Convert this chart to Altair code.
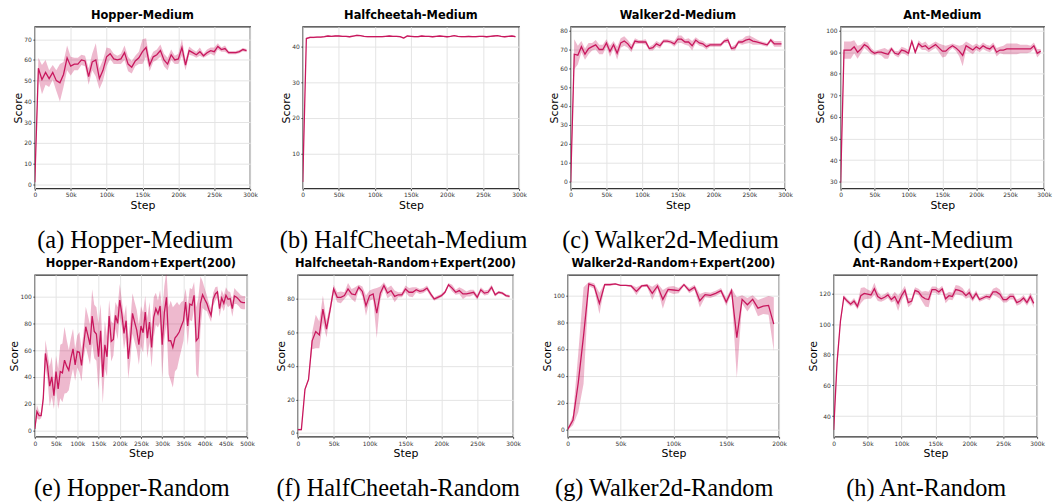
import altair as alt
import pandas as pd

# ---------------- data ----------------
steps_300 = list(range(0, 300, 5))   # in thousands
steps_500 = list(range(0, 500, 5))
steps_200 = list(range(0, 200, 5))

hopper_med_mean = [1, 56, 50.5, 54, 51, 54, 50, 49, 53, 61,
                   57, 58, 58, 60, 59.5, 52, 59, 60, 51, 55,
                   61.5, 63, 60.5, 60, 60.5, 63.5, 58, 56.5, 59.5, 61,
                   64, 66, 57.5, 61.5, 62.5, 64.5, 60, 58, 62.5, 60,
                   60.5, 66, 57.5, 64.5, 63.5, 62.5, 64, 62, 63.5, 64.5,
                   64, 66.5, 65, 65.5, 63.5, 63.5, 63.5, 64, 65, 64.5]
hopper_med_std = [1, 5, 7, 6, 4, 3.5, 5, 9, 6, 6,
                  4.5, 3, 3, 2.5, 2.5, 4, 4, 8, 5, 5,
                  4.5, 2.5, 2.5, 2, 2.5, 3.5, 3.5, 3, 2.5, 3,
                  6, 4.5, 3, 2.5, 2.5, 3, 3, 3, 2.5, 2,
                  2.5, 4, 2.5, 2, 1.5, 1.5, 2, 1, 1.5, 1.5,
                  2, 1.5, 1, 1.5, 0.8, 0.8, 0.8, 0.8, 0.8, 0.8]

cheetah_med_mean = [2, 42.3, 42.6, 42.6, 42.7, 42.7, 42.8, 43.0, 42.9, 43.0,
                    43.0, 42.9, 42.9, 42.8, 43.0, 43.2, 43.1, 42.9, 42.8, 42.8,
                    42.8, 42.8, 42.8, 42.9, 43.0, 42.9, 42.9, 42.8, 42.4, 43.0,
                    42.9, 42.8, 42.8, 43.0, 42.9, 42.9, 42.8, 42.9, 43.0, 42.9,
                    42.8, 42.9, 43.1, 42.9, 42.8, 42.8, 42.9, 42.8, 42.8, 42.9,
                    42.9, 42.8, 42.9, 43.0, 43.1, 42.9, 42.8, 42.9, 43.0, 42.8]
cheetah_med_std = [1, 0.3, 0.25, 0.2, 0.2, 0.2, 0.2, 0.2, 0.2, 0.2,
                   0.2, 0.2, 0.2, 0.2, 0.2, 0.2, 0.2, 0.2, 0.2, 0.2,
                   0.2, 0.2, 0.2, 0.2, 0.2, 0.2, 0.2, 0.2, 0.25, 0.2,
                   0.2, 0.2, 0.2, 0.2, 0.2, 0.2, 0.2, 0.2, 0.2, 0.2,
                   0.2, 0.2, 0.2, 0.2, 0.2, 0.2, 0.2, 0.2, 0.2, 0.2,
                   0.2, 0.2, 0.2, 0.2, 0.2, 0.2, 0.2, 0.2, 0.2, 0.2]

walker_med_mean = [-0.5, 67.5, 67, 71.5, 67.5, 70.5, 71.5, 72.5, 70, 70,
                   73.5, 69, 72.5, 68, 73.5, 74.5, 73, 70.5, 74.5, 74,
                   74, 74, 70.5, 71, 73, 72, 74.5, 74.5, 74, 73,
                   75.5, 75.5, 74, 74, 72, 75, 73.5, 73, 71.5, 72.5,
                   72.5, 72.5, 72.5, 74.5, 75, 70.5, 71, 74, 74, 75,
                   75.5, 74.5, 74, 73.5, 73, 72.5, 75, 73, 73, 73]
walker_med_std = [1, 8, 5, 3, 3, 3, 2, 2.5, 2.5, 2.5,
                  2, 3, 2, 3.5, 2.5, 2.5, 2, 2, 1.5, 1,
                  1, 1.5, 1, 1.5, 1.5, 1.5, 1, 1, 1, 1.5,
                  2, 2, 1.5, 2, 2.5, 1.5, 1.5, 1.5, 1.5, 1,
                  1, 1, 1, 1, 1.5, 1, 1.5, 1, 1.5, 2,
                  2, 2, 1.5, 1, 1, 1, 1, 1.5, 1.5, 1.5]

ant_med_mean = [29.5, 91, 91, 91, 92.5, 90, 91.5, 93.5, 92.5, 90.5,
                89.5, 90, 90, 89.5, 89, 91.5, 89.5, 89, 91, 90.5,
                89.5, 95, 90, 94, 92.5, 93, 91.5, 92.5, 93.5, 92,
                90.5, 90.5, 92, 93, 92, 90.5, 88.5, 93, 92, 91,
                92.5, 91.5, 93, 92, 91.5, 93, 90, 91, 91, 91.5,
                91.5, 91.5, 91.5, 91.5, 91.5, 91.5, 91.5, 93, 89.5, 90.5]
ant_med_std = [1, 4, 4, 4, 3, 3, 2, 1.5, 2, 1.5,
               1, 1, 1.5, 2.5, 2, 1, 1, 1.5, 1.5, 1.5,
               1.5, 1, 1, 1.5, 1.5, 2, 1.5, 1.5, 1.5, 2,
               3, 2.5, 1.5, 1, 1.5, 2.5, 5, 2, 2, 2,
               1.5, 1.5, 1.5, 1.5, 1.5, 1.5, 2, 1.5, 2, 2.5,
               2.5, 2.5, 2.5, 2, 2, 2, 1.5, 1.5, 2, 1]

hopper_rnd_mean = [1, 14, 11, 11, 24, 57.5, 48, 33, 40, 26,
                   44, 31, 44, 43, 52.5, 48, 45, 54, 61, 49,
                   59, 58.5, 48.5, 64, 77.5, 71, 64, 85.5, 74, 72,
                   55, 74.5, 40, 64, 55, 85.5, 66.5, 68, 86, 80,
                   97.5, 87, 72.5, 82, 53.5, 67, 87.5, 81, 75, 64,
                   78, 73, 88.5, 69, 81, 62, 84.5, 91, 87, 93,
                   64, 88, 99.5, 67, 67, 62, 69, 71, 73.5, 78,
                   82, 96, 78, 94.5, 93.5, 101, 67, 69, 95, 101.5,
                   98, 95, 90, 86, 98, 102, 103.5, 91, 99, 95,
                   101, 98, 98.5, 91, 100.5, 99.5, 98, 96, 95.5, 95.5]
hopper_rnd_std = [1, 5, 3, 2, 5, 10, 10, 15, 15, 10,
                  12, 15, 20, 22, 25, 20, 15, 15, 15, 12,
                  12, 15, 12, 10, 15, 15, 15, 20, 20, 20,
                  25, 20, 20, 18, 15, 12, 15, 12, 10, 12,
                  12, 10, 12, 12, 15, 15, 15, 15, 15, 15,
                  15, 15, 12, 15, 15, 15, 15, 12, 10, 12,
                  25, 20, 20, 25, 30, 30, 25, 25, 20, 18,
                  15, 10, 15, 12, 12, 10, 25, 30, 20, 10,
                  8, 6, 5, 5, 5, 5, 4, 6, 6, 6,
                  6, 6, 5, 6, 6, 5, 5, 5, 5, 5]

cheetah_rnd_mean = [2, 2, 26, 32, 55, 60.5, 58.5, 74, 62, 73.5,
                    86, 81, 81, 82, 86, 83, 82.5, 87, 84.5, 76,
                    82, 83, 71.5, 83.5, 88, 83.5, 85, 81.5, 82.5, 82.5,
                    86, 84, 84, 85.5, 84.5, 85, 86.5, 83, 80, 81,
                    82, 84, 88.5, 86.5, 84, 85, 83, 83, 83.5, 84,
                    81, 85.5, 83.5, 84, 87, 82.5, 84, 83.5, 82, 81.5]
cheetah_rnd_std = [0.5, 0.5, 1, 1, 5, 10, 8, 8, 5, 3,
                   2.5, 3, 3.5, 2, 3.5, 3, 4.5, 1.5, 3, 6,
                   3, 3, 15, 4, 2, 3, 3, 3.5, 1.5, 1.5,
                   2, 2.5, 3, 1.5, 1.5, 1.5, 1.5, 1.5, 1, 1,
                   1, 1, 1, 2, 1.5, 2, 3, 1.5, 2, 1.5,
                   1.5, 1.5, 1.5, 1.5, 1.5, 1, 0.8, 0.8, 0.8, 0.8]

walker_rnd_mean = [0, 7, 35, 70, 108.5, 107, 94, 108, 108, 108.5,
                   107.5, 107.5, 107, 103, 107, 107.5, 101.5, 107, 97, 104.5,
                   104, 103.5, 108, 103.5, 106, 96, 100.5, 100, 101.5, 103.5,
                   95, 103.5, 68.5, 97, 93, 97, 90.5, 92, 92.5, 78.5]
walker_rnd_std = [0.5, 4, 22, 36, 1.5, 2, 8, 1, 1, 0.5,
                  0.5, 0.5, 1, 3, 1, 1, 5, 2, 7, 2,
                  3, 2, 1, 2, 2, 5, 2, 2, 2, 2,
                  3, 2, 30, 3, 5, 3, 6, 6, 7, 20]

ant_rnd_mean = [31, 75, 102, 117.5, 115, 113, 115, 111.5, 118.5, 120,
                119.5, 119, 123, 118, 116.5, 117.5, 119, 116, 118, 113.5,
                118.5, 122, 114, 115, 122, 121, 118, 116.5, 116, 122.5,
                122.5, 121, 123, 116.5, 118.5, 118, 122.5, 122, 121, 118.5,
                120.5, 116.5, 120, 116, 117, 118, 117.5, 121, 121, 119.5,
                116, 116, 118, 118, 114, 115, 117, 114, 118, 113.5]
ant_rnd_std = [1, 3, 2, 1.5, 1.5, 1.5, 2, 2, 5, 4,
               3, 2.5, 4, 3, 2, 2, 2, 2, 3, 5,
               3, 3, 3, 2, 2, 2, 3, 5, 5, 2,
               2, 2, 2, 3, 2.5, 2.5, 3, 3, 2.5, 2,
               3, 2, 2, 1.5, 1.5, 1.5, 2, 2, 3, 3,
               2, 2, 2, 2, 2, 2, 2, 2, 2.5, 3]

titles = ["Hopper-Medium", "Halfcheetah-Medium", "Walker2d-Medium", "Ant-Medium",
          "Hopper-Random+Expert(200)", "Halfcheetah-Random+Expert(200)",
          "Walker2d-Random+Expert(200)", "Ant-Random+Expert(200)"]
captions = ["(a) Hopper-Medium", "(b) HalfCheetah-Medium", "(c) Walker2d-Medium", "(d) Ant-Medium",
            "(e) Hopper-Random", "(f) HalfCheetah-Random", "(g) Walker2d-Random", "(h) Ant-Random"]

xticks_300 = [0, 50, 100, 150, 200, 250, 300]
xticks_500 = [0, 50, 100, 150, 200, 250, 300, 350, 400, 450, 500]
xticks_200 = [0, 50, 100, 150, 200]

# ---------------- styling ----------------
COLOR = "#C8175D"
H = 163

specs = [
    (steps_300, hopper_med_mean, hopper_med_std, 300, xticks_300, [-2, 76], list(range(0, 80, 10)), 217),
    (steps_300, cheetah_med_mean, cheetah_med_std, 300, xticks_300, [0.2, 45.6], [10, 20, 30, 40], 218),
    (steps_300, walker_med_mean, walker_med_std, 300, xticks_300, [-3.9, 82.1], list(range(0, 90, 10)), 216),
    (steps_300, ant_med_mean, ant_med_std, 300, xticks_300, [26.8, 101.8], list(range(30, 110, 10)), 205),
    (steps_500, hopper_rnd_mean, hopper_rnd_std, 500, xticks_500, [-4.7, 116.3], [0, 20, 40, 60, 80, 100], 214),
    (steps_300, cheetah_rnd_mean, cheetah_rnd_std, 300, xticks_300, [-2.2, 94.4], [0, 20, 40, 60, 80], 217),
    (steps_200, walker_rnd_mean, walker_rnd_std, 200, xticks_200, [-5.4, 115.3], [0, 20, 40, 60, 80, 100], 213),
    (steps_300, ant_rnd_mean, ant_rnd_std, 300, xticks_300, [26.6, 132.1], [40, 60, 80, 100, 120], 205),
]


def make_panel(i):
    steps, mean, std, xmax, xticks, ydom, yticks, w = specs[i]
    df = pd.DataFrame({"step": steps, "mean": mean, "std": std})
    df["lo"] = df["mean"] - df["std"]
    df["hi"] = df["mean"] + df["std"]
    xscale = alt.Scale(domain=[0, xmax], nice=False, zero=False)
    yscale = alt.Scale(domain=ydom, nice=False, zero=False)
    xaxis = alt.Axis(values=xticks, title="Step", titlePadding=2,
                     labelExpr="datum.value == 0 ? '0' : datum.value + 'k'")
    yaxis = alt.Axis(values=yticks, title="Score", titlePadding=0)
    band = alt.Chart(df).mark_area(color=COLOR, opacity=0.3, clip=True).encode(
        x=alt.X("step:Q", scale=xscale, axis=xaxis),
        y=alt.Y("lo:Q", scale=yscale, axis=yaxis),
        y2="hi:Q",
    )
    line = alt.Chart(df).mark_line(color=COLOR, strokeWidth=1.3, clip=True).encode(
        x=alt.X("step:Q", scale=xscale, axis=xaxis),
        y=alt.Y("mean:Q", scale=yscale, axis=yaxis),
    )
    layered = alt.layer(band, line).properties(
        width=w, height=H,
        title=alt.TitleParams(titles[i], font="DejaVu Sans", fontSize=11.5, fontWeight="bold",
                              anchor="middle", frame="group", offset=5, color="#000"),
    )
    return alt.vconcat(layered, title=alt.TitleParams(
        captions[i], orient="bottom", anchor="middle", font="Liberation Serif",
        fontSize=24.5, fontWeight="normal", color="#000", offset=18))


row1 = alt.hconcat(*[make_panel(i) for i in range(4)], spacing=20)
row2 = alt.hconcat(*[make_panel(i) for i in range(4, 8)], spacing=19)

chart = alt.vconcat(row1, row2, spacing=4).properties(
    padding={"left": 0, "top": -1, "right": 0, "bottom": 0}
).configure_view(
    stroke="#333333", strokeWidth=1.3
).configure_axis(
    labelFont="DejaVu Sans", labelFontSize=6, labelColor="#333333",
    titleFont="DejaVu Sans", titleFontSize=11, titleFontWeight="normal", titleColor="#000",
    tickColor="#333333", tickSize=2, tickWidth=0.8, labelPadding=1.5,
    domain=False, grid=True, gridColor="#e4e4e4", gridWidth=1,
    labelOverlap=False, labelFlush=False,
)

chart.save("out.html", embed_options={"renderer": "svg", "actions": False})
